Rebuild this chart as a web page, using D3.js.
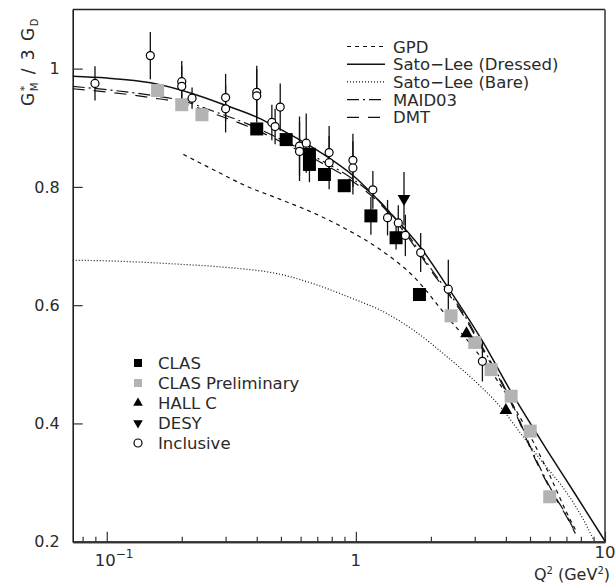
<!DOCTYPE html>
<html lang="en">
<head>
<meta charset="UTF-8">
<title>G*M / 3 GD versus Q2</title>
<script src="https://d3js.org/d3.v7.min.js"></script>
<style>
    body { margin: 0; background: #fff; }
    svg text { font-family: "DejaVu Sans", "Liberation Sans", Arial, sans-serif; fill: #2a2a2a; }
</style>
</head>
<body>
<div id="chart"></div>
<script>
// points: [Q2, value, half error]
var clas = [[0.40, 0.898, 0.008], [0.525, 0.880, 0.010], [0.651, 0.855, 0.020], [0.651, 0.838, 0.030],
    [0.748, 0.821, 0.010], [0.898, 0.802, 0.010], [1.149, 0.751, 0.032], [1.45, 0.714, 0.020], [1.80, 0.618, 0.008]];
var clasPrelim = [[0.160, 0.963], [0.200, 0.939], [0.241, 0.922], [2.41, 0.582], [3.00, 0.537],
    [3.49, 0.491], [4.20, 0.446], [5.01, 0.387], [6.00, 0.276]];
var hallC = [[2.78, 0.552], [4.00, 0.422]];
var desy = [[1.56, 0.780, 0.045]];
var inclusive = [[0.0897, 0.975, 0.029], [0.1496, 1.022, 0.040], [0.200, 0.978, 0.035], [0.200, 0.970, 0.035],
    [0.220, 0.950, 0.018], [0.300, 0.951, 0.040], [0.300, 0.932, 0.040], [0.400, 0.960, 0.045],
    [0.400, 0.954, 0.045], [0.460, 0.909, 0.030], [0.474, 0.902, 0.030], [0.497, 0.935, 0.040],
    [0.594, 0.869, 0.050], [0.594, 0.860, 0.050], [0.632, 0.874, 0.050], [0.781, 0.858, 0.045],
    [0.781, 0.841, 0.045], [0.973, 0.845, 0.045], [0.973, 0.832, 0.045], [1.17, 0.795, 0.032],
    [1.34, 0.748, 0.030], [1.48, 0.739, 0.030], [1.58, 0.718, 0.035], [1.82, 0.689, 0.033],
    [2.35, 0.627, 0.050], [3.22, 0.505, 0.034]];

// model curves: [Q2, value]
var gpd = [[0.203, 0.855], [0.268, 0.829], [0.365, 0.801], [0.497, 0.779], [0.676, 0.756], [0.92, 0.728],
    [1.252, 0.694], [1.70, 0.649], [2.32, 0.581], [3.16, 0.513], [4.30, 0.429], [5.85, 0.322], [7.04, 0.248], [7.72, 0.215]];
var satoDressed = [[0.073, 0.987], [0.10, 0.984], [0.15, 0.976], [0.22, 0.958], [0.30, 0.938], [0.40, 0.918],
    [0.50, 0.897], [0.675, 0.866], [1.0, 0.815], [1.33, 0.762], [1.80, 0.700], [2.35, 0.629],
    [3.16, 0.545], [4.30, 0.446], [5.85, 0.355], [7.5, 0.284], [10, 0.201]];
var satoBare = [[0.073, 0.676], [0.10, 0.675], [0.20, 0.669], [0.30, 0.664], [0.50, 0.652], [0.70, 0.634],
    [0.92, 0.615], [1.33, 0.586], [1.70, 0.558], [2.32, 0.513], [3.16, 0.463], [3.68, 0.435], [4.57, 0.384],
    [5.50, 0.339], [7.04, 0.282], [8.2, 0.237], [9.0, 0.203]];
var maid = [[0.073, 0.970], [0.15, 0.955], [0.20, 0.946], [0.268, 0.928], [0.365, 0.907], [0.497, 0.881],
    [0.718, 0.846], [0.92, 0.820], [1.252, 0.775], [1.60, 0.722], [2.0, 0.662], [2.79, 0.576],
    [3.16, 0.535], [4.04, 0.453], [4.57, 0.402], [5.0, 0.362], [6.2, 0.282], [7.04, 0.243], [7.6, 0.215]];
var dmt = [[0.073, 0.966], [0.15, 0.951], [0.20, 0.942], [0.268, 0.924], [0.365, 0.903], [0.497, 0.877],
    [0.718, 0.842], [0.92, 0.816], [1.252, 0.771], [1.60, 0.718], [2.0, 0.659], [2.79, 0.573],
    [3.16, 0.532], [4.04, 0.450], [4.57, 0.399], [5.0, 0.359], [6.2, 0.280], [7.04, 0.241], [7.6, 0.214]];

var yTicks = [0.2, 0.4, 0.6, 0.8, 1];
var xMajor = [0.1, 1, 10];
var xMinor = [0.08, 0.09, 0.2, 0.3, 0.4, 0.5, 0.6, 0.7, 0.8, 0.9, 2, 3, 4, 5, 6, 7, 8, 9];

var W = 616, H = 583;
var m = { left: 72.7, right: 11, top: 9.5, bottom: 41.3 };
var fs = 16.5;

var svg = d3.select('#chart').append('svg')
    .attr('width', W)
    .attr('height', H);

var x = d3.scaleLog().domain([0.073, 10]).range([m.left, W - m.right]);
var y = d3.scaleLinear().domain([0.2, 1.1]).range([H - m.bottom, m.top]);

// frame top and right
svg.append('path')
    .attr('d', 'M' + m.left + ',' + m.top + 'H' + (W - m.right))
    .attr('fill', 'none').attr('stroke', '#222').attr('stroke-width', 1.5);
svg.append('path')
    .attr('d', 'M' + (W - m.right) + ',' + m.top + 'V' + (H - m.bottom))
    .attr('fill', 'none').attr('stroke', '#666').attr('stroke-width', 2);

// x axis: major and minor ticks pointing into the plot
var gx = svg.append('g').attr('transform', 'translate(0,' + (H - m.bottom) + ')');
gx.call(d3.axisBottom(x).tickValues(xMajor).tickSize(-10).tickSizeOuter(0).tickFormat(''));
gx.append('g').call(d3.axisBottom(x).tickValues(xMinor).tickSize(-5).tickSizeOuter(0).tickFormat(''));
gx.selectAll('.domain').attr('stroke', '#333').attr('stroke-width', 2);
gx.selectAll('line').attr('stroke', '#333').attr('stroke-width', 1.2);

var xl = svg.append('g').attr('font-size', fs);
xl.append('text').attr('x', x(0.1) - 12).attr('y', 566).text('10')
    .append('tspan').attr('dy', -8).attr('font-size', 12).text('\u22121');
xl.append('text').attr('x', x(1)).attr('y', 566).attr('text-anchor', 'middle').text('1');
xl.append('text').attr('x', x(10)).attr('y', 558).attr('text-anchor', 'middle').text('10');

var xt = xl.append('text').attr('x', 610).attr('y', 580).attr('font-size', 16).attr('text-anchor', 'end');
xt.append('tspan').text('Q');
xt.append('tspan').attr('dy', -6).attr('font-size', 10).text('2');
xt.append('tspan').attr('dy', 6).text(' (GeV');
xt.append('tspan').attr('dy', -6).attr('font-size', 10).text('2');
xt.append('tspan').attr('dy', 6).text(')');

// y axis
var gy = svg.append('g').attr('transform', 'translate(' + m.left + ',0)');
gy.call(d3.axisLeft(y).tickValues(yTicks).tickSize(-10).tickSizeOuter(0).tickPadding(13)
    .tickFormat(function (d) { return d === 1 ? '1' : d.toFixed(1); }));
gy.selectAll('.domain').attr('stroke', '#111').attr('stroke-width', 1.5);
gy.selectAll('line').attr('stroke', '#333').attr('stroke-width', 1.2);
gy.selectAll('text').attr('font-size', 16).attr('font-family', '"DejaVu Sans", "Liberation Sans", Arial, sans-serif').attr('fill', '#2a2a2a');

var yt = svg.append('text').attr('font-size', 17).attr('letter-spacing', 1.5)
    .attr('transform', 'translate(34,106) rotate(-90)');
yt.append('tspan').text('G');
yt.append('tspan').attr('dy', -6).attr('font-size', 11).text('*');
yt.append('tspan').attr('dx', -7).attr('dy', 10).attr('font-size', 10).text('M');
yt.append('tspan').attr('dy', -4).text(' / 3 G');
yt.append('tspan').attr('dy', 4).attr('font-size', 10).text('D');

// curves
var line = d3.line()
    .x(function (d) { return x(d[0]); })
    .y(function (d) { return y(d[1]); })
    .curve(d3.curveMonotoneX);

var curves = [
    { name: 'GPD', data: gpd, dash: '4,4', width: 1.2 },
    { name: 'Sato\u2212Lee (Dressed)', data: satoDressed, dash: null, width: 1.5 },
    { name: 'Sato\u2212Lee (Bare)', data: satoBare, dash: '1,2', width: 1.2 },
    { name: 'MAID03', data: maid, dash: '12,4,2,4', width: 1.2 },
    { name: 'DMT', data: dmt, dash: '12,9', width: 1.2 }
];

var plot = svg.append('g');
plot.selectAll('path.curve')
    .data(curves)
    .enter()
    .append('path')
    .attr('class', 'curve')
    .attr('d', function (d) { return line(d.data); })
    .attr('fill', 'none')
    .attr('stroke', '#111')
    .attr('stroke-width', function (d) { return d.width; })
    .attr('stroke-dasharray', function (d) { return d.dash; });

// error bars
var bars = clas.concat(desy, inclusive);
plot.selectAll('line.err')
    .data(bars)
    .enter()
    .append('line')
    .attr('class', 'err')
    .attr('x1', function (d) { return x(d[0]); })
    .attr('x2', function (d) { return x(d[0]); })
    .attr('y1', function (d) { return y(d[1] - d[2]); })
    .attr('y2', function (d) { return y(d[1] + d[2]); })
    .attr('stroke', '#111')
    .attr('stroke-width', 1.3);

// markers
var sq = 13;
plot.selectAll('rect.prelim')
    .data(clasPrelim)
    .enter()
    .append('rect')
    .attr('class', 'prelim')
    .attr('x', function (d) { return x(d[0]) - sq / 2; })
    .attr('y', function (d) { return y(d[1]) - sq / 2; })
    .attr('width', sq).attr('height', sq)
    .attr('fill', '#b3b3b3');

plot.selectAll('rect.clas')
    .data(clas)
    .enter()
    .append('rect')
    .attr('class', 'clas')
    .attr('x', function (d) { return x(d[0]) - sq / 2; })
    .attr('y', function (d) { return y(d[1]) - sq / 2; })
    .attr('width', sq).attr('height', sq)
    .attr('fill', '#000');

var tri = d3.symbol().type(d3.symbolTriangle).size(70);
plot.selectAll('path.hallc')
    .data(hallC)
    .enter()
    .append('path')
    .attr('class', 'hallc')
    .attr('d', tri)
    .attr('transform', function (d) { return 'translate(' + x(d[0]) + ',' + y(d[1]) + ')'; })
    .attr('fill', '#000');

plot.selectAll('path.desy')
    .data(desy)
    .enter()
    .append('path')
    .attr('class', 'desy')
    .attr('d', tri)
    .attr('transform', function (d) { return 'translate(' + x(d[0]) + ',' + y(d[1]) + ') rotate(180)'; })
    .attr('fill', '#000');

plot.selectAll('circle.incl')
    .data(inclusive)
    .enter()
    .append('circle')
    .attr('class', 'incl')
    .attr('cx', function (d) { return x(d[0]); })
    .attr('cy', function (d) { return y(d[1]); })
    .attr('r', 4)
    .attr('fill', '#fff')
    .attr('stroke', '#000')
    .attr('stroke-width', 1.2);

// legend for curves
var lg = svg.append('g').attr('font-size', fs);
curves.forEach(function (c, i) {
    var yy = 46.5 + i * 17.7;
    lg.append('line')
        .attr('x1', 347).attr('x2', 385).attr('y1', yy).attr('y2', yy)
        .attr('stroke', '#111').attr('stroke-width', c.width)
        .attr('stroke-dasharray', c.dash);
    lg.append('text').attr('x', 393).attr('y', yy + 6).text(c.name);
});

// legend for points
var pts = [
    { name: 'CLAS', kind: 'sq', fill: '#000' },
    { name: 'CLAS Preliminary', kind: 'sq', fill: '#b3b3b3' },
    { name: 'HALL C', kind: 'up' },
    { name: 'DESY', kind: 'down' },
    { name: 'Inclusive', kind: 'circle' }
];
var small = d3.symbol().type(d3.symbolTriangle).size(40);
pts.forEach(function (p, i) {
    var yy = 363 + i * 20;
    if (p.kind === 'sq') {
        lg.append('rect').attr('x', 134).attr('y', yy - 4).attr('width', 8).attr('height', 8).attr('fill', p.fill);
    } else if (p.kind === 'circle') {
        lg.append('circle').attr('cx', 138).attr('cy', yy).attr('r', 4)
            .attr('fill', '#fff').attr('stroke', '#000').attr('stroke-width', 1.2);
    } else {
        lg.append('path').attr('d', small)
            .attr('transform', 'translate(138,' + yy + ')' + (p.kind === 'down' ? ' rotate(180)' : ''))
            .attr('fill', '#000');
    }
    lg.append('text').attr('x', 158).attr('y', yy + 6).text(p.name);
});
</script>
</body>
</html>
